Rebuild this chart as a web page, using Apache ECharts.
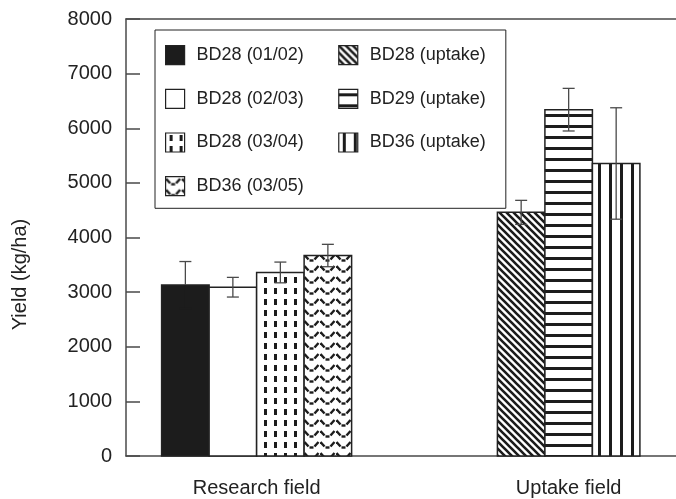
<!DOCTYPE html>
<html>
<head>
<meta charset="utf-8">
<script src="https://cdn.jsdelivr.net/npm/echarts@6/dist/echarts.min.js"></script>
<style>
  html, body { margin: 0; padding: 0; background: #fff; }
  #chart { width: 676px; height: 499px; }
</style>
</head>
<body>
<div id="chart"></div>
<script>
// ---- data ----
const categories = ['Research field', 'Uptake field'];
const researchSeries = ['BD28 (01/02)', 'BD28 (02/03)', 'BD28 (03/04)', 'BD36 (03/05)'];
const researchYield = [3130, 3090, 3360, 3670];
const researchErr = [430, 180, 190, 205];
const uptakeSeries = ['BD28 (uptake)', 'BD29 (uptake)', 'BD36 (uptake)'];
const uptakeYield = [4460, 6340, 5355];
const uptakeErr = [220, 390, 1020];
const yTicks = [0, 1000, 2000, 3000, 4000, 5000, 6000, 7000, 8000];

// ---- patterns ----
const INK = '#1c1c1c';
function makeTile(w, h, draw) {
  const c = document.createElement('canvas');
  c.width = w; c.height = h;
  const g = c.getContext('2d');
  g.fillStyle = '#fff';
  g.fillRect(0, 0, w, h);
  g.fillStyle = INK; g.strokeStyle = INK;
  draw(g, w, h);
  return { image: c, repeat: 'repeat' };
}
const fills = {
  solid: INK,
  white: '#ffffff',
  dots: makeTile(10, 11, function (g) { g.fillRect(4, 2, 3, 6); }),
  wave: makeTile(16, 11, function (g) {
    g.lineWidth = 2.4;
    g.beginPath(); g.moveTo(0.5, 2); g.lineTo(4.5, 6.5); g.stroke();
    g.beginPath(); g.moveTo(5.5, 7.5); g.lineTo(9.5, 7.5); g.stroke();
    g.beginPath(); g.moveTo(10.5, 6.5); g.lineTo(14.5, 2); g.stroke();
  }),
  diag: makeTile(7, 7, function (g) {
    g.lineWidth = 2.6;
    g.beginPath();
    for (let k = -1; k <= 1; k++) { g.moveTo(k * 7 - 3, -3); g.lineTo(k * 7 + 10, 10); }
    g.stroke();
  }),
  hstripe: makeTile(11, 11, function (g) { g.fillRect(0, 4, 11, 3); }),
  vstripe: makeTile(11, 11, function (g) { g.fillRect(4, 0, 3, 11); })
};
const researchFills = [fills.solid, fills.white, fills.dots, fills.wave];
const uptakeFills = [fills.diag, fills.hstripe, fills.vstripe];

// ---- layout constants (pixels) ----
const BAR_W = 47.5;
const CAP_W = 12;
const ERR_COLOR = '#4a4a4a';

function makeSeries(name, catIndex, value, err, slot, nSlots, fill) {
  const lowerColor = fill === INK ? INK : ERR_COLOR;
  return {
    name: name,
    type: 'custom',
    z: 2,
    itemStyle: { color: fill, borderColor: '#222', borderWidth: 1.5 },
    data: [[catIndex + 1, value, err]],
    renderItem: function (params, api) {
      const xv = api.value(0), yv = api.value(1), ev = api.value(2);
      const top = api.coord([xv, yv]);
      const base = api.coord([xv, 0]);
      const hi = api.coord([xv, yv + ev]);
      const lo = api.coord([xv, yv - ev]);
      const cx = top[0] + (slot - (nSlots - 1) / 2) * BAR_W;
      const upStyle = { stroke: ERR_COLOR, lineWidth: 1.3 };
      const loStyle = { stroke: lowerColor, lineWidth: 1.3 };
      return {
        type: 'group',
        children: [
          { type: 'rect', shape: { x: cx - BAR_W / 2, y: top[1], width: BAR_W, height: base[1] - top[1] },
            style: api.style() },
          { type: 'line', shape: { x1: cx, y1: hi[1], x2: cx, y2: top[1] }, style: upStyle },
          { type: 'line', shape: { x1: cx - CAP_W / 2, y1: hi[1], x2: cx + CAP_W / 2, y2: hi[1] }, style: upStyle },
          { type: 'line', shape: { x1: cx, y1: top[1], x2: cx, y2: lo[1] }, style: loStyle },
          { type: 'line', shape: { x1: cx - CAP_W / 2, y1: lo[1], x2: cx + CAP_W / 2, y2: lo[1] }, style: loStyle }
        ]
      };
    }
  };
}

const series = [];
researchSeries.forEach(function (n, i) {
  series.push(makeSeries(n, 0, researchYield[i], researchErr[i], i, researchSeries.length, researchFills[i]));
});
uptakeSeries.forEach(function (n, i) {
  series.push(makeSeries(n, 1, uptakeYield[i], uptakeErr[i], i, uptakeSeries.length, uptakeFills[i]));
});

const chart = echarts.init(document.getElementById('chart'), null, { renderer: 'canvas' });
const FONT = 'Liberation Sans, Arial, Helvetica, sans-serif';
const X_MIN = 0.5814, X_MAX = 2.344;

chart.setOption({
  animation: false,
  backgroundColor: '#fff',
  textStyle: { fontFamily: FONT },
  grid: { left: 126, right: 0, top: 19, bottom: 43 },
  legend: {
    data: researchSeries.concat(uptakeSeries),
    orient: 'vertical',
    left: 155, top: 30,
    height: 168,
    padding: [15, 9, 12, 10],
    itemGap: 23.5,
    itemWidth: 19, itemHeight: 19,
    icon: 'rect',
    borderColor: '#222', borderWidth: 1,
    itemStyle: { borderColor: '#222', borderWidth: 1.2 },
    textStyle: { fontFamily: FONT, fontSize: 18, color: '#222', lineHeight: 19, padding: [0, 11, 0, 7] },
    selectedMode: false
  },
  xAxis: [{
    type: 'value', min: X_MIN, max: X_MAX,
    splitLine: { show: false },
    axisTick: { show: false },
    axisLine: { show: true, onZero: false, lineStyle: { color: '#4a4a4a', width: 1.5 } },
    axisLabel: {
      customValues: [1, 2],
      formatter: function (v) { return categories[Math.round(v) - 1] || ''; },
      fontFamily: FONT, fontSize: 20, color: '#222', margin: 22
    }
  }, {
    type: 'value', position: 'top', min: X_MIN, max: X_MAX,
    splitLine: { show: false }, axisTick: { show: false }, axisLabel: { show: false },
    axisLine: { show: true, onZero: false, lineStyle: { color: '#4a4a4a', width: 1.5 } }
  }],
  yAxis: {
    type: 'value', min: 0, max: 8000, interval: 1000,
    name: 'Yield (kg/ha)', nameLocation: 'middle', nameGap: 96,
    nameTextStyle: { fontFamily: FONT, fontSize: 20, color: '#222', padding: [0, 74, 0, 0] },
    splitLine: { show: false },
    axisLine: { show: true, lineStyle: { color: '#4a4a4a', width: 1.5 } },
    axisTick: { show: true, inside: true, length: 14, lineStyle: { color: '#4a4a4a', width: 1.5 } },
    axisLabel: {
      fontFamily: FONT, fontSize: 20, color: '#222', margin: 14,
      formatter: function (v) { return yTicks.indexOf(v) >= 0 ? String(v) : ''; }
    }
  },
  series: series
});
</script>
</body>
</html>
